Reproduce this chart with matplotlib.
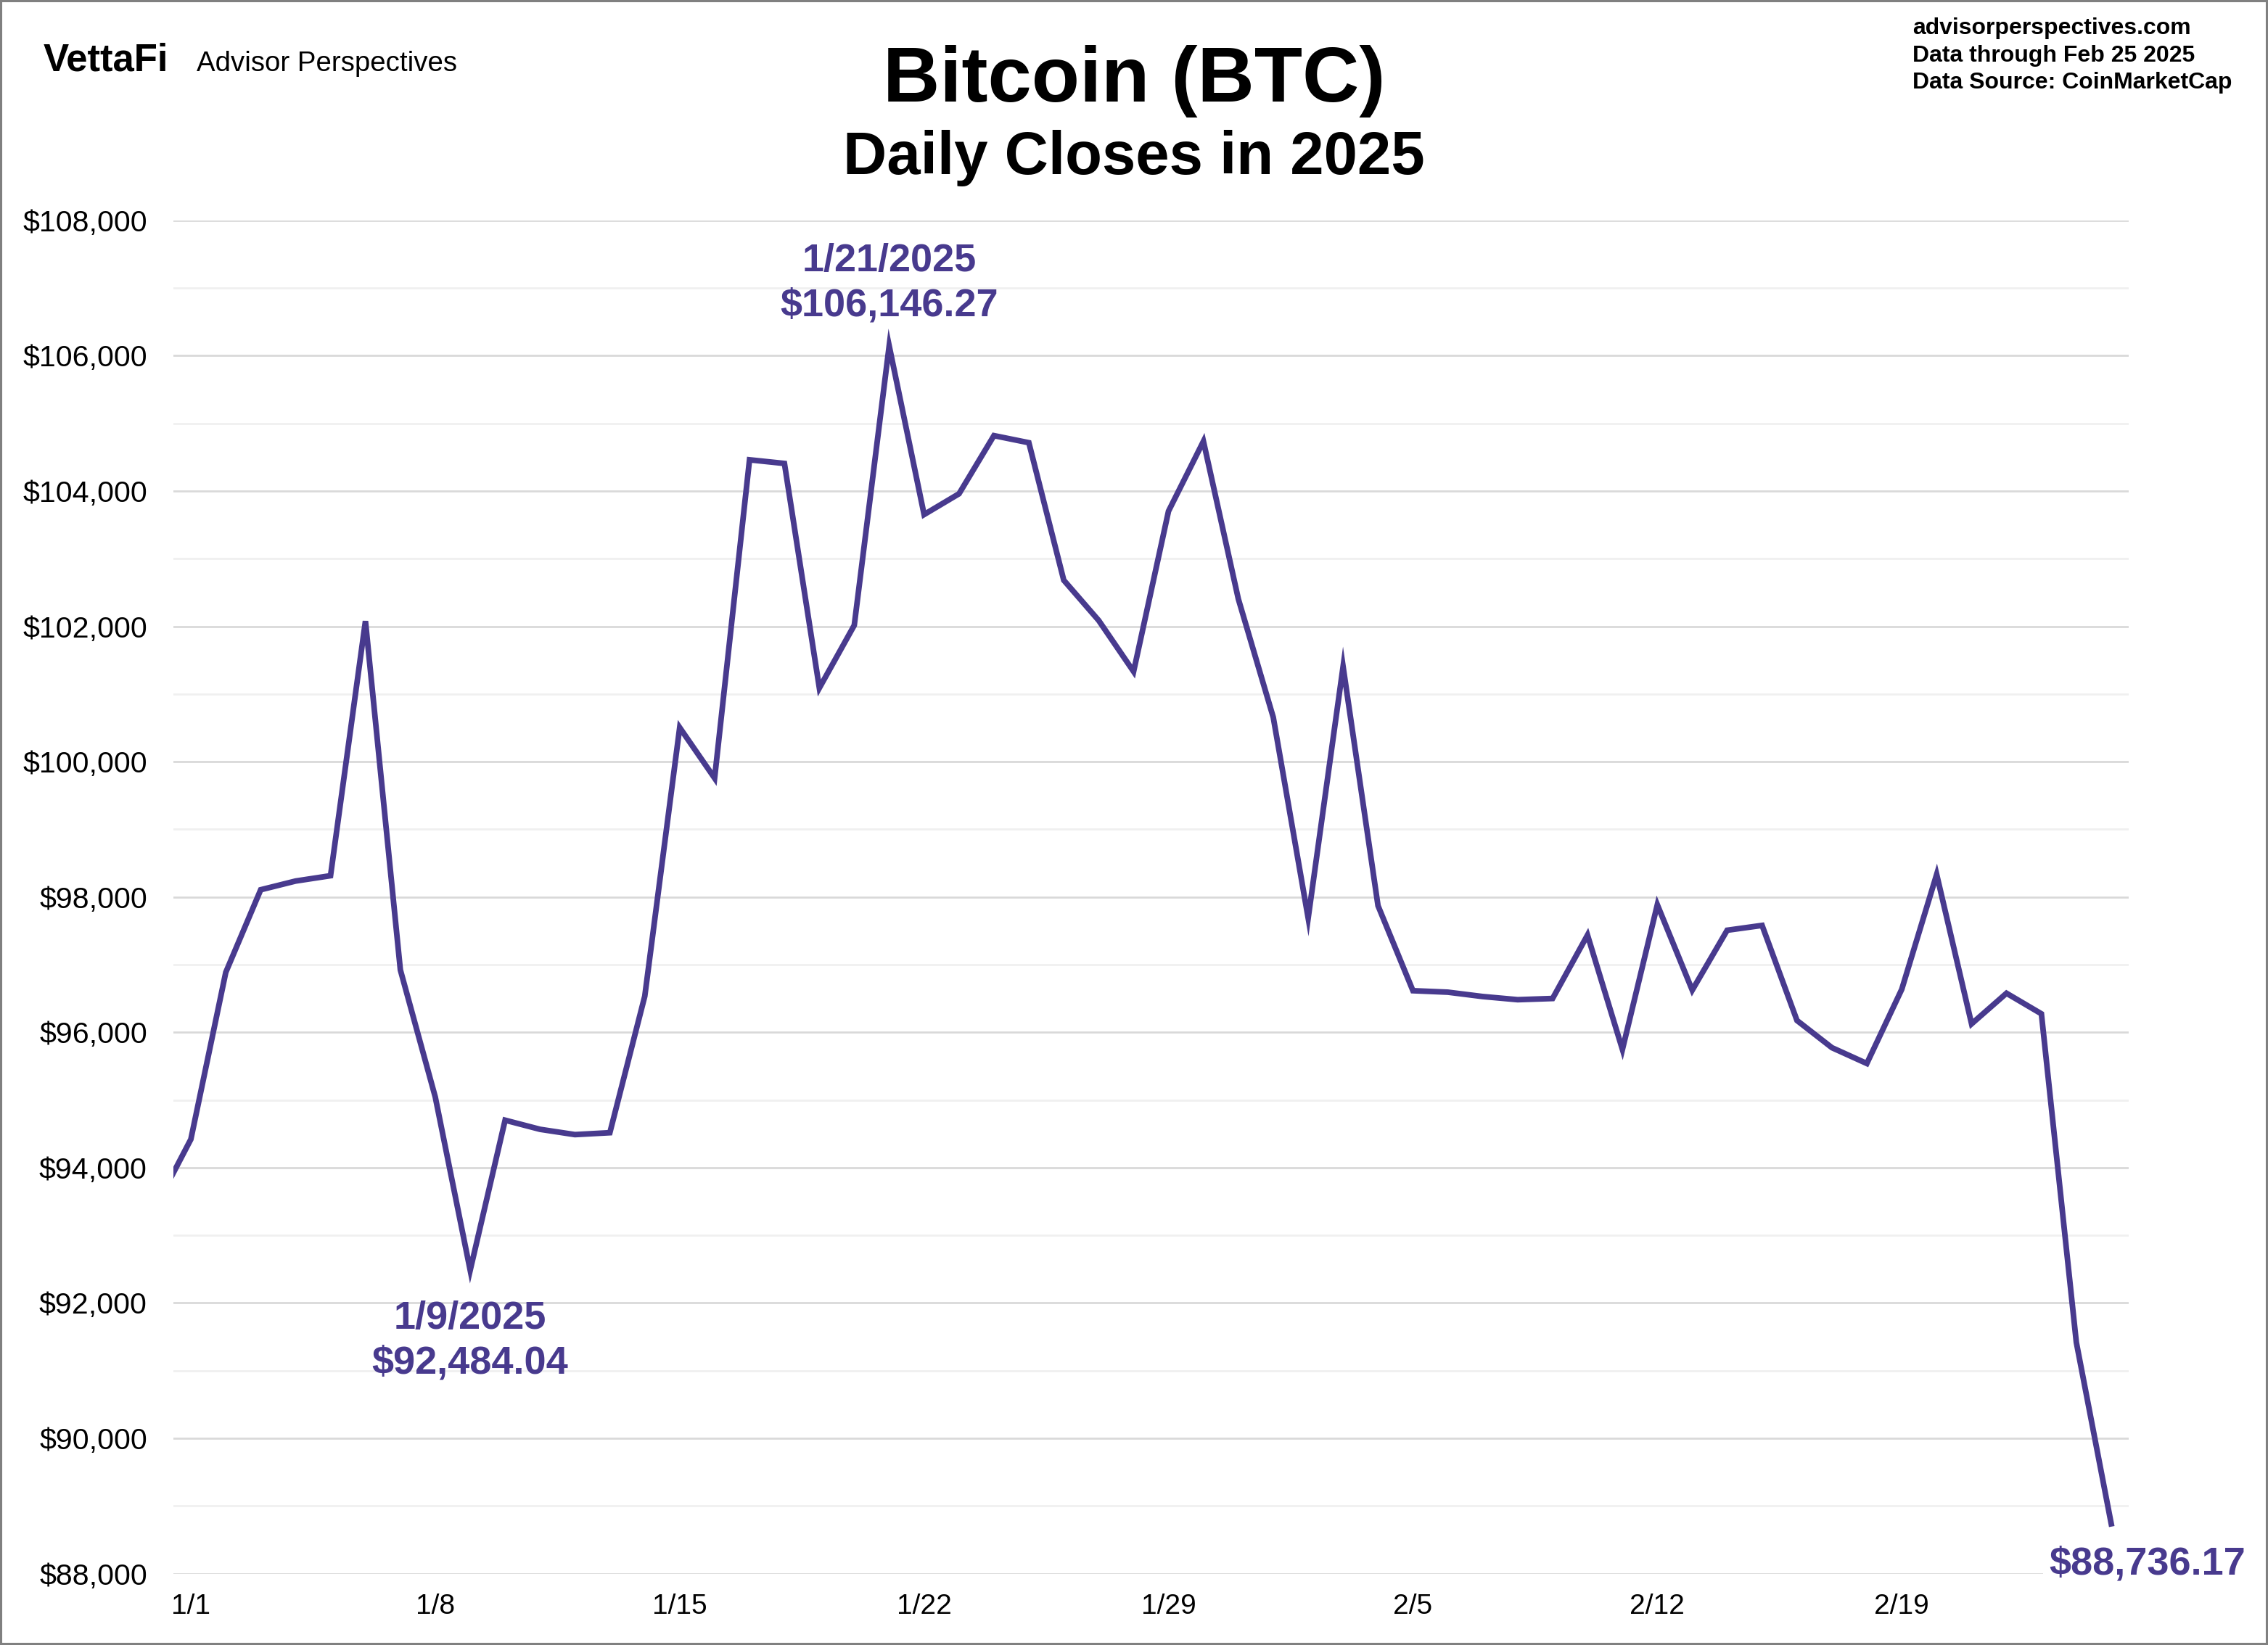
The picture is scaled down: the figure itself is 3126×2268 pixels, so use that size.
import matplotlib
matplotlib.use('Agg')
import matplotlib.pyplot as plt
import matplotlib.dates as mdates
from matplotlib.ticker import MultipleLocator, FuncFormatter
from matplotlib.patches import Rectangle
import pandas as pd

plt.rcParams['font.family'] = ['Liberation Sans', 'DejaVu Sans']

# ---------------- data ----------------
start_date = '2024-12-31'
closes = [
    93429.20,                                                   # 12/31
    94419.76, 96886.88, 98107.43, 98236.23, 98314.96, 102078.09, 96922.70,   # 1/1-1/7
    95043.52, 92484.04, 94701.46, 94566.59, 94488.44, 94516.52, 96534.05,    # 1/8-1/14
    100504.49, 99756.91, 104462.04, 104408.07, 101089.61, 102016.66, 106146.27,  # 1/15-1/21
    103653.07, 103960.17, 104819.48, 104714.65, 102682.50, 102087.69, 101332.48,  # 1/22-1/28
    103703.21, 104735.30, 102405.03, 100655.91, 97688.98, 101405.42, 97871.82,    # 1/29-2/4
    96615.44, 96593.57, 96529.09, 96482.45, 96500.09, 97437.55, 95747.43,   # 2/5-2/11
    97885.86, 96623.87, 97508.97, 97580.35, 96175.03, 95773.38, 95539.55,   # 2/12-2/18
    96635.61, 98333.94, 96125.55, 96577.76, 96273.92, 91418.17, 88736.17,   # 2/19-2/25
]
tick_dates = ['2025-01-01', '2025-01-08', '2025-01-15', '2025-01-22',
              '2025-01-29', '2025-02-05', '2025-02-12', '2025-02-19']
tick_labels = ['1/1', '1/8', '1/15', '1/22', '1/29', '2/5', '2/12', '2/19']
high_date = '2025-01-21'
low_date = '2025-01-09'
y_min, y_max = 88000, 108000

title = 'Bitcoin (BTC)'
subtitle = 'Daily Closes in 2025'
source_lines = ['advisorperspectives.com', 'Data through Feb 25 2025',
                'Data Source: CoinMarketCap']

# ---------------- style ----------------
LINE = '#483A8E'
dates = pd.date_range(start_date, periods=len(closes), freq='D')
series = pd.Series(closes, index=dates)

fig = plt.figure(figsize=(15.63, 11.34), dpi=200)
ax = fig.add_axes([0.07646, 0.0434, 0.86212, 0.8226])

ax.plot(series.index, series.values, color=LINE, lw=2.8, zorder=3,
        solid_joinstyle='miter')

ax.set_xlim(mdates.date2num(pd.Timestamp('2024-12-31 12:00')),
            mdates.date2num(pd.Timestamp('2025-02-25 12:00')))
ax.set_ylim(y_min, y_max)

ax.set_xticks([mdates.date2num(pd.Timestamp(d)) for d in tick_dates])
ax.set_xticklabels(tick_labels)
ax.yaxis.set_major_locator(MultipleLocator(2000))
ax.yaxis.set_minor_locator(MultipleLocator(1000))
ax.yaxis.set_major_formatter(FuncFormatter(lambda v, p: f'${v:,.0f}'))

ax.tick_params(axis='y', which='both', length=0, pad=13, labelsize=14.8)
ax.tick_params(axis='x', length=0, pad=10, labelsize=14)

ax.grid(axis='y', which='major', color='#d9d9d9', lw=1.0, zorder=0)
ax.grid(axis='y', which='minor', color='#f0f0f0', lw=1.0, zorder=0)
ax.grid(axis='x', visible=False)
for s in ax.spines.values():
    s.set_visible(False)
ax.set_axisbelow(True)

# annotations
hi_t = pd.Timestamp(high_date)
lo_t = pd.Timestamp(low_date)
last_t = series.index[-1]
ann_kw = dict(color=LINE, fontsize=19.5, fontweight='bold', ha='center',
              textcoords='offset points', zorder=5)
ax.annotate(f'{hi_t.month}/{hi_t.day}/{hi_t.year}\n${series[hi_t]:,.2f}',
            xy=(hi_t, series[hi_t]), xytext=(0, 11), va='bottom',
            linespacing=1.3, **ann_kw)
ax.annotate(f'{lo_t.month}/{lo_t.day}/{lo_t.year}\n${series[lo_t]:,.2f}',
            xy=(lo_t, series[lo_t]), xytext=(0, -15), va='top',
            linespacing=1.3, **ann_kw)
ax.annotate(f'${series[last_t]:,.2f}', xy=(last_t, series[last_t]),
            xytext=(18, -20), va='center', annotation_clip=False,
            bbox=dict(boxstyle='square,pad=0.15', fc='white', ec='none'),
            **ann_kw)

# header texts
fig.text(0.5, 1 - 140 / 2268, title, ha='center', va='baseline',
         fontsize=39, fontweight='bold')
fig.text(0.5, 1 - 240 / 2268, subtitle, ha='center', va='baseline',
         fontsize=30, fontweight='bold')
fig.text(60 / 3126, 1 - 98 / 2268, 'VettaFi', ha='left', va='baseline',
         fontsize=19, fontweight='bold')
fig.text(271 / 3126, 1 - 98 / 2268, 'Advisor Perspectives', ha='left',
         va='baseline', fontsize=13.8)
for txt, yb in zip(source_lines, [47, 85, 122]):
    fig.text(2636 / 3126, 1 - yb / 2268, txt, ha='left', va='baseline',
             fontsize=11.5, fontweight='bold')

# outer frame
fig.patches.append(Rectangle((0, 0), 1, 1, transform=fig.transFigure,
                             fill=False, ec='#808080', lw=2.2, zorder=10))

fig.savefig('out.png', dpi=200, facecolor='white')
